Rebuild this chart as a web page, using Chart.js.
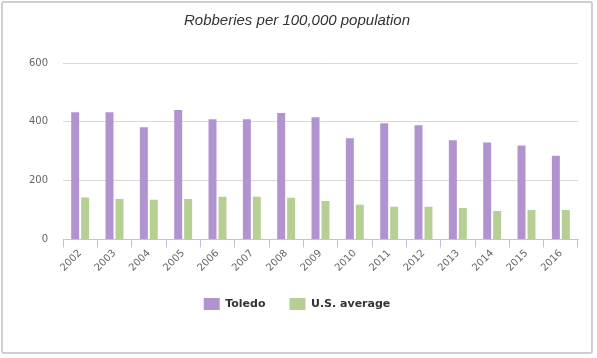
<!DOCTYPE html>
<html>
<head>
<meta charset="utf-8">
<script src="https://cdn.jsdelivr.net/npm/chart.js@4"></script>
<style>
  body { margin: 0; background: #fff; }
  #box {
    position: absolute; left: 1px; top: 1px;
    width: 588px; height: 349px;
    border: 2px solid #cfcfcf; border-radius: 3px;
  }
  #wrap { position: absolute; left: 0; top: 0; width: 588px; height: 349px; }
</style>
</head>
<body>
<div id="box"><div id="wrap"><canvas id="c"></canvas></div></div>
<script>
// Datos
const years = ['2002','2003','2004','2005','2006','2007','2008','2009','2010','2011','2012','2013','2014','2015','2016'];
const toledo = [433, 433, 382, 440, 409, 409, 430, 416, 344, 395, 388, 337, 330, 320, 285];
const usAvg  = [143, 138, 135, 138, 145, 145, 142, 131, 118, 111, 111, 107, 97, 100, 100];
const yTicks = [0, 200, 400, 600];

const purple = '#b093cf';
const green  = '#b6cf92';
const tickFont = { family: 'DejaVu Sans, Verdana, sans-serif', size: 10 };

new Chart(document.getElementById('c'), {
  type: 'bar',
  data: {
    labels: years,
    datasets: [
      { label: 'Toledo', data: toledo, backgroundColor: purple, categoryPercentage: 0.58, barPercentage: 0.8 },
      { label: 'U.S. average', data: usAvg, backgroundColor: green, categoryPercentage: 0.58, barPercentage: 0.8 }
    ]
  },
  options: {
    responsive: true,
    maintainAspectRatio: false,
    animation: false,
    layout: { padding: { left: 13, right: 13, top: 2, bottom: 32 } },
    plugins: {
      title: {
        display: true,
        text: 'Robberies per 100,000 population',
        color: '#333',
        font: { family: 'Liberation Sans, Arial, sans-serif', size: 15, style: 'italic', weight: 'normal' },
        padding: { top: 7, bottom: 33 }
      },
      legend: {
        position: 'bottom',
        labels: {
          color: '#333',
          font: { family: 'DejaVu Sans, Verdana, sans-serif', size: 11, weight: 'bold' },
          boxWidth: 16, boxHeight: 12, padding: 24
        }
      },
      tooltip: { enabled: false }
    },
    scales: {
      x: {
        grid: { offset: true, drawOnChartArea: false, color: '#b7c8de', tickLength: 8 },
        border: { color: '#b7c8de', width: 1 },
        ticks: { color: '#666', font: tickFont, minRotation: 45, maxRotation: 45, padding: 0 }
      },
      y: {
        min: 0, max: 600,
        afterBuildTicks: s => { s.ticks = yTicks.map(v => ({ value: v })); },
        afterFit: s => { s.width = 47; },
        grid: { color: '#d8d8d8', drawTicks: false },
        border: { display: false },
        ticks: { color: '#666', font: tickFont, padding: 15 }
      }
    }
  }
});
</script>
</body>
</html>
